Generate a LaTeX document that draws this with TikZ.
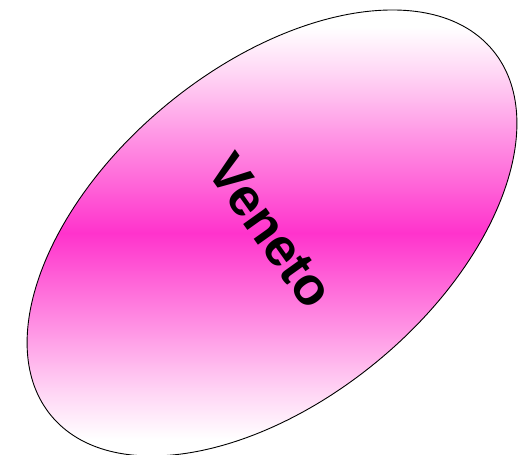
\documentclass[tikz,border=0pt]{standalone}
\usepackage{fontspec}
\setmainfont{Liberation Sans}
\definecolor{veneto}{RGB}{255,51,204}
\pgfdeclareverticalshading{venetoshade}{100bp}{%
  color(0bp)=(white);
  color(27.5bp)=(white);
  color(33bp)=(veneto!22);
  color(39bp)=(veneto!50);
  color(44.5bp)=(veneto!75);
  color(50bp)=(veneto);
  color(55.5bp)=(veneto!75);
  color(61bp)=(veneto!50);
  color(67bp)=(veneto!22);
  color(72.5bp)=(white);
  color(100bp)=(white)}
\tikzset{
  region/.style={draw=black, line width=0.9pt, shading=venetoshade},
  label/.style={font=\bfseries\fontsize{53}{60}\selectfont, rotate=-54.5}
}
\begin{document}
\begin{tikzpicture}[x=1pt,y=1pt]
\useasboundingbox (0,0) rectangle (518,454);
\begin{scope}
\clip (0,0) rectangle (518,454);
\draw[region] (272,221) ellipse [x radius=286.6, y radius=166, rotate=39.6];
\end{scope}
\node[label] (veneto) at (271,223) {Veneto};
\end{tikzpicture}
\end{document}
